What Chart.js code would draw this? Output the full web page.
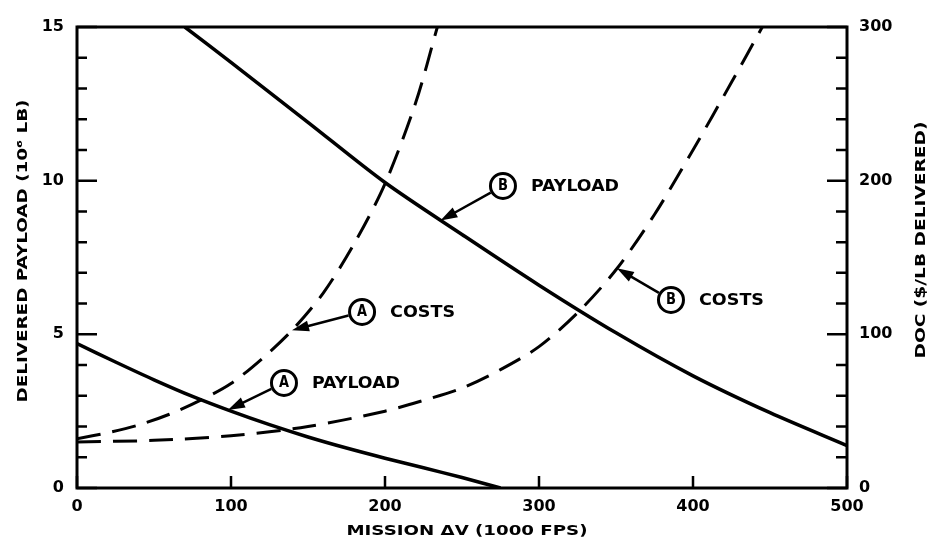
<!DOCTYPE html>
<html>
<head>
<meta charset="utf-8">
<script src="https://cdn.jsdelivr.net/npm/chart.js@4.4.1/dist/chart.umd.min.js"></script>
<style>
  html, body { margin: 0; padding: 0; background: #fff; }
  #wrap { width: 930px; height: 539px; }
</style>
</head>
<body>
<div id="wrap"><canvas id="c" width="930" height="539"></canvas></div>
<script>
// Mission delta-V (1000 fps) and curve values
const dvPayloadA = [0, 25, 50, 75, 100, 125, 150, 175, 200, 225, 250, 275];
const payloadA   = [4.7, 4.1, 3.52, 2.98, 2.5, 2.06, 1.66, 1.3, 0.97, 0.66, 0.34, 0];
const dvPayloadB = [70, 100, 150, 200, 250, 300, 350, 400, 450, 500];
const payloadB   = [15, 13.85, 11.9, 9.94, 8.25, 6.6, 5.05, 3.65, 2.45, 1.38];
const dvCostA    = [0, 20, 40, 60, 80, 100, 120, 140, 160, 180, 200, 220, 234];
const costA      = [32, 36, 41, 48, 57, 68, 84, 103, 127, 159, 198, 251, 300];
const dvCostB    = [0, 50, 100, 150, 200, 225, 250, 275, 300, 325, 350, 375, 400, 425, 445];
const costB      = [30, 31, 34, 40, 50, 57, 65, 77, 92, 114, 142, 178, 220, 264, 300];

// Axis ticks
const dvTicks      = [0, 100, 200, 300, 400, 500];
const payloadTicks = [0, 5, 10, 15];
const costTicks    = [0, 100, 200, 300];
const payloadMinor = [1, 2, 3, 4, 6, 7, 8, 9, 11, 12, 13, 14];
const costMinor    = [20, 40, 60, 80, 120, 140, 160, 180, 220, 240, 260, 280];

// Circled-letter callouts: label anchor on the payload axis, arrow tip on the curve
const callouts = [
  { letter: 'A', text: 'COSTS',   at: { x: 185.1, y: 5.73 }, tip: { x: 139.6, y: 102.6, axis: 'y2' } },
  { letter: 'A', text: 'PAYLOAD', at: { x: 134.4, y: 3.42 }, tip: { x: 98.0,  y: 2.54,  axis: 'y'  } },
  { letter: 'B', text: 'PAYLOAD', at: { x: 276.6, y: 9.83 }, tip: { x: 236.0, y: 8.70,  axis: 'y'  } },
  { letter: 'B', text: 'COSTS',   at: { x: 385.7, y: 6.12 }, tip: { x: 350.6, y: 143,   axis: 'y2' } }
];

const FONT = '"DejaVu Sans", sans-serif';
const pts = (xs, ys) => xs.map((x, i) => ({ x: x, y: ys[i] }));

// Draw text squeezed/stretched to a target width
function fitText(ctx, text, cx, cy, width, size, rot) {
  ctx.save();
  ctx.font = 'bold ' + size + 'px ' + FONT;
  const w = ctx.measureText(text).width;
  ctx.translate(cx, cy);
  ctx.rotate(rot || 0);
  ctx.scale(width / w, 1);
  ctx.textAlign = 'center';
  ctx.textBaseline = 'middle';
  ctx.fillStyle = '#000';
  ctx.fillText(text, 0, 0);
  ctx.restore();
}

const framePlugin = {
  id: 'frame',
  beforeDraw(chart) {
    const ctx = chart.ctx;
    ctx.save();
    ctx.fillStyle = '#fff';
    ctx.fillRect(0, 0, chart.width, chart.height);
    ctx.restore();
  },
  beforeDatasetsDraw(chart) {
    const { ctx, chartArea: a, scales } = chart;
    ctx.save();
    ctx.strokeStyle = '#000';
    ctx.lineWidth = 3;
    ctx.strokeRect(a.left, a.top, a.right - a.left, a.bottom - a.top);
    ctx.lineWidth = 2.5;
    ctx.beginPath();
    payloadTicks.forEach(v => { const p = scales.y.getPixelForValue(v); ctx.moveTo(a.left, p); ctx.lineTo(a.left + 20, p); });
    payloadMinor.forEach(v => { const p = scales.y.getPixelForValue(v); ctx.moveTo(a.left, p); ctx.lineTo(a.left + 10, p); });
    costTicks.forEach(v => { const p = scales.y2.getPixelForValue(v); ctx.moveTo(a.right, p); ctx.lineTo(a.right - 20, p); });
    costMinor.forEach(v => { const p = scales.y2.getPixelForValue(v); ctx.moveTo(a.right, p); ctx.lineTo(a.right - 11, p); });
    dvTicks.forEach(v => { const p = scales.x.getPixelForValue(v); ctx.moveTo(p, a.bottom); ctx.lineTo(p, a.bottom - 12); });
    ctx.stroke();
    ctx.restore();

    // Axis titles
    fitText(ctx, 'MISSION \u0394V (1000 FPS)', 467, 531, 241, 14, 0);
    fitText(ctx, 'DELIVERED PAYLOAD (10\u2076 LB)', 23, 251, 303, 14, -Math.PI / 2);
    fitText(ctx, 'DOC ($/LB DELIVERED)', 921, 240, 237, 14, -Math.PI / 2);
  },
  afterDatasetsDraw(chart) {
    const { ctx, scales } = chart;
    const R = 14;
    callouts.forEach(c => {
      const cx = scales.x.getPixelForValue(c.at.x);
      const cy = scales.y.getPixelForValue(c.at.y);
      const tx = scales.x.getPixelForValue(c.tip.x);
      const ty = scales[c.tip.axis].getPixelForValue(c.tip.y);
      const dx = tx - cx, dy = ty - cy, len = Math.hypot(dx, dy);
      const ux = dx / len, uy = dy / len;
      ctx.save();
      ctx.strokeStyle = '#000';
      ctx.fillStyle = '#000';
      // leader
      ctx.lineWidth = 2.5;
      ctx.beginPath();
      ctx.moveTo(cx + ux * R, cy + uy * R);
      ctx.lineTo(tx - ux * 10, ty - uy * 10);
      ctx.stroke();
      // arrowhead
      const hl = 17, hw = 5.5;
      const bx = tx - ux * hl, by = ty - uy * hl;
      ctx.beginPath();
      ctx.moveTo(tx, ty);
      ctx.lineTo(bx - uy * hw, by + ux * hw);
      ctx.lineTo(bx + uy * hw, by - ux * hw);
      ctx.closePath();
      ctx.fill();
      // circle
      ctx.lineWidth = 3;
      ctx.beginPath();
      ctx.arc(cx, cy, R - 1.5, 0, Math.PI * 2);
      ctx.fillStyle = '#fff';
      ctx.fill();
      ctx.stroke();
      ctx.restore();
      fitText(ctx, c.letter, cx, cy + 0.5, 10, 15, 0);
      const tw = c.text === 'COSTS' ? 65 : 88;
      fitText(ctx, c.text, cx + R + 14 + tw / 2, cy + 1, tw, 16, 0);
    });
  }
};

const solid = { borderColor: '#000', borderWidth: 3.5, pointRadius: 0, showLine: true, fill: false, tension: 0.3 };
const dashed = Object.assign({}, solid, { borderWidth: 3, borderDash: [24, 12] });
const tickFont = { family: FONT, weight: 'bold', size: 16 };

new Chart(document.getElementById('c'), {
  type: 'scatter',
  data: {
    datasets: [
      Object.assign({ label: 'A payload', data: pts(dvPayloadA, payloadA), yAxisID: 'y' }, solid),
      Object.assign({ label: 'B payload', data: pts(dvPayloadB, payloadB), yAxisID: 'y' }, solid),
      Object.assign({ label: 'A costs', data: pts(dvCostA, costA), yAxisID: 'y2' }, dashed),
      Object.assign({ label: 'B costs', data: pts(dvCostB, costB), yAxisID: 'y2' }, dashed)
    ]
  },
  options: {
    responsive: false,
    animation: false,
    devicePixelRatio: 1,
    layout: { padding: { top: 27, left: 0, right: 0, bottom: 0 } },
    plugins: { legend: { display: false }, tooltip: { enabled: false } },
    scales: {
      x: {
        type: 'linear', min: 0, max: 500,
        afterFit(s) { s.height = 51; },
        afterBuildTicks(s) { s.ticks = dvTicks.map(v => ({ value: v })); },
        grid: { display: false, drawTicks: false }, border: { display: false },
        ticks: { padding: 9, color: '#000', font: tickFont, maxRotation: 0 }
      },
      y: {
        type: 'linear', position: 'left', min: 0, max: 15,
        afterFit(s) { s.width = 77; },
        afterBuildTicks(s) { s.ticks = payloadTicks.map(v => ({ value: v })); },
        grid: { display: false, drawTicks: false }, border: { display: false },
        ticks: { padding: 13, color: '#000', font: tickFont }
      },
      y2: {
        type: 'linear', position: 'right', min: 0, max: 300,
        afterFit(s) { s.width = 83; },
        afterBuildTicks(s) { s.ticks = costTicks.map(v => ({ value: v })); },
        grid: { display: false, drawTicks: false }, border: { display: false },
        ticks: { padding: 12, color: '#000', font: tickFont }
      }
    }
  },
  plugins: [framePlugin]
});
</script>
</body>
</html>
